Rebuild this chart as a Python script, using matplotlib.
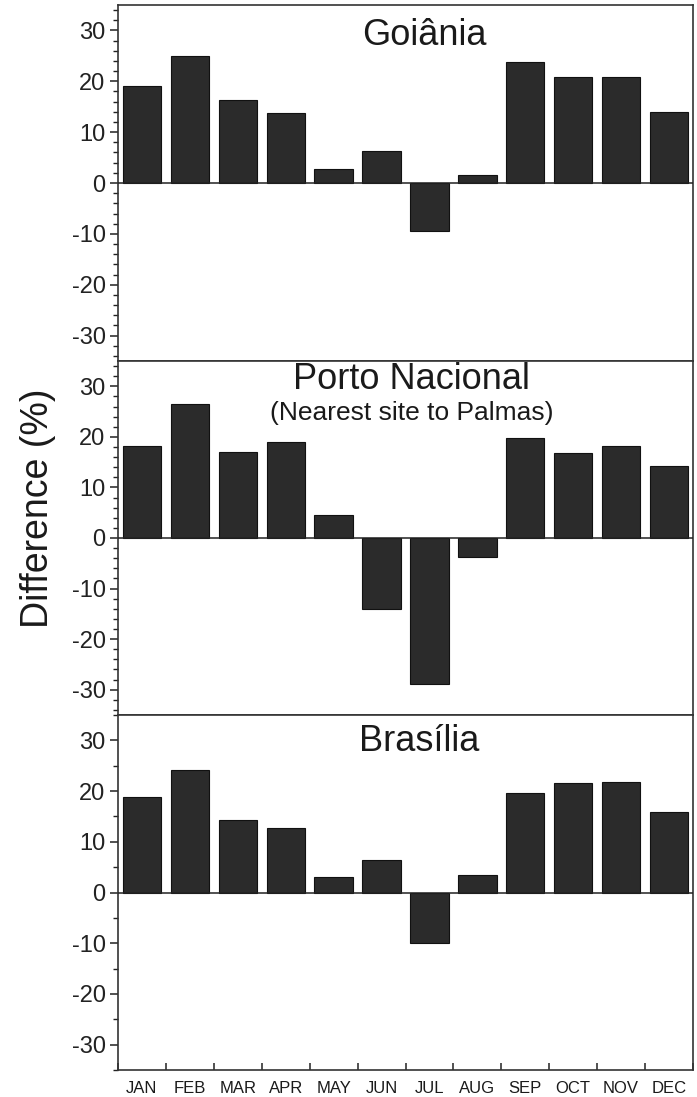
import matplotlib.pyplot as plt
from matplotlib.ticker import MultipleLocator

# monthly differences (%)
months = ["JAN", "FEB", "MAR", "APR", "MAY", "JUN", "JUL", "AUG", "SEP", "OCT", "NOV", "DEC"]
goiania = [19.1, 25.0, 16.3, 13.8, 2.7, 6.3, -9.4, 1.6, 23.7, 20.8, 20.8, 14.0]
porto_nacional = [18.1, 26.5, 17.1, 19.0, 4.5, -14.1, -28.9, -3.8, 19.7, 16.8, 18.1, 14.3]
brasilia = [18.8, 24.2, 14.2, 12.7, 3.0, 6.5, -10.0, 3.4, 19.7, 21.5, 21.8, 15.9]

plt.rcParams['font.family'] = ['Liberation Sans', 'DejaVu Sans']
plt.rcParams['axes.unicode_minus'] = False

W, H = 697, 1097
fig = plt.figure(figsize=(W / 100, H / 100), dpi=100)
fig.patch.set_facecolor('white')

left, right = 118, 693
rows = [(5, 361), (361, 715), (715, 1070)]
panels = [
    (goiania, "Goiânia", None, (0.532, 0.915), 2),
    (porto_nacional, "Porto Nacional", "(Nearest site to Palmas)", (0.51, 0.948), 2),
    (brasilia, "Brasília", None, (0.524, 0.925), 5),
]

x = list(range(len(months)))
axes = []
for (top, bot), (vals, name, sub, tpos, minor) in zip(rows, panels):
    ax = fig.add_axes([left / W, 1 - bot / H, (right - left) / W, (bot - top) / H])
    ax.bar(x, vals, width=0.8, color='#2b2b2b', edgecolor='#111111', linewidth=0.8, zorder=2)
    ax.axhline(0, color='#222222', lw=1.1, zorder=3)
    ax.set_xlim(-0.5, 11.5)
    ax.set_ylim(-35, 35)
    ax.set_yticks([-30, -20, -10, 0, 10, 20, 30])
    ax.yaxis.set_minor_locator(MultipleLocator(minor))
    ax.tick_params(axis='y', which='major', direction='out', length=6, width=1.1,
                   labelsize=17, colors='#222222', pad=3)
    ax.tick_params(axis='y', which='minor', direction='out', length=3.5, width=1.0, colors='#222222')
    for s in ax.spines.values():
        s.set_linewidth(1.2)
        s.set_color('#333333')
    ax.text(tpos[0], tpos[1], name, transform=ax.transAxes, ha='center', va='center',
            fontsize=26, color='#1a1a1a')
    if sub:
        ax.text(0.51, 0.853, sub, transform=ax.transAxes, ha='center', va='center',
                fontsize=19, color='#1a1a1a')
    axes.append(ax)

for ax in axes[:-1]:
    ax.set_xticks([])
ax = axes[-1]
ax.set_xticks([i - 0.5 for i in range(13)])
ax.set_xticklabels([])
ax.set_xticks(x, minor=True)
ax.set_xticklabels(months, minor=True, fontsize=12)
ax.tick_params(axis='x', which='major', direction='in', length=5, width=1.1, colors='#222222')
ax.tick_params(axis='x', which='minor', length=0, pad=8, labelcolor='#1a1a1a')

fig.text(38 / W, 1 - 508 / H, "Difference (%)", rotation=90, ha='center', va='center',
         fontsize=27, color='#1a1a1a')

fig.savefig('out.png', dpi=100)
